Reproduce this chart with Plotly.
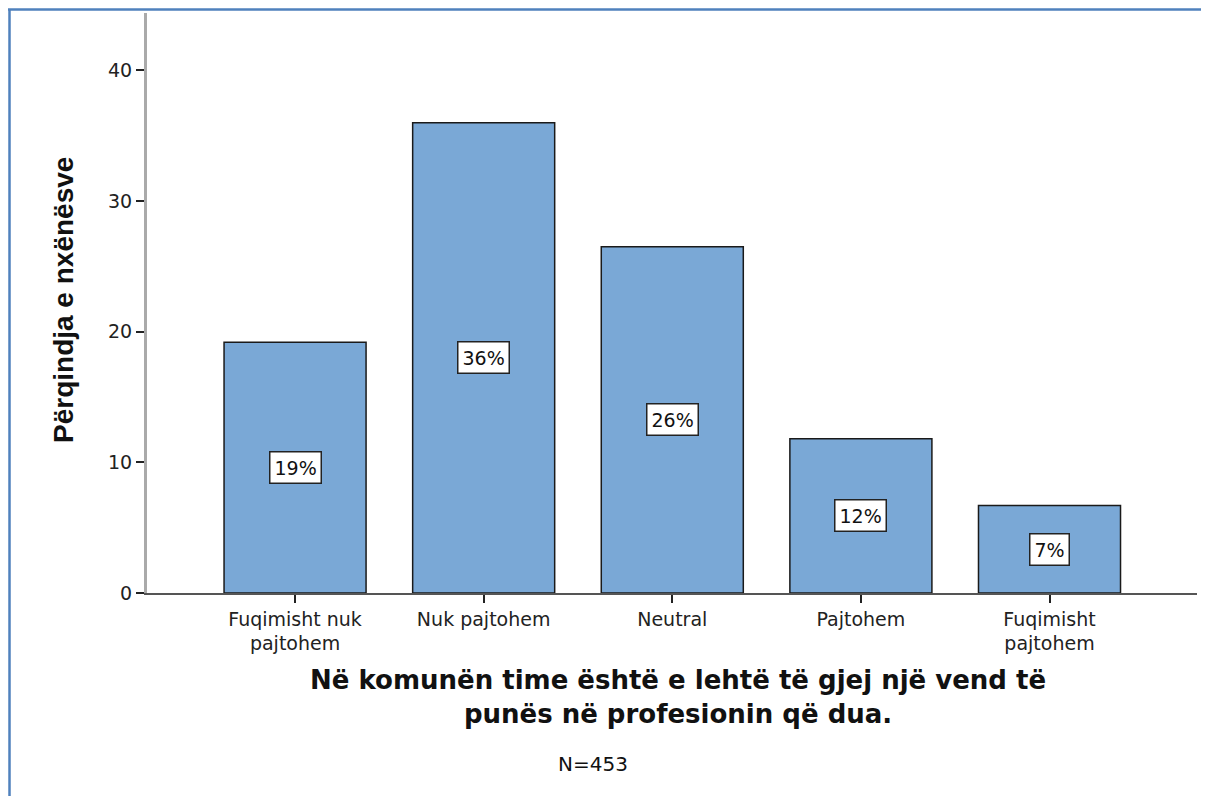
import plotly.graph_objects as go

categories = ["Fuqimisht nuk<br>pajtohem", "Nuk pajtohem", "Neutral", "Pajtohem", "Fuqimisht<br>pajtohem"]
percent_values = [19.2, 36.0, 26.5, 11.8, 6.7]
bar_labels = ["19%", "36%", "26%", "12%", "7%"]
y_ticks = [0, 10, 20, 30, 40]

x_title = "Në komunën time është e lehtë të gjej një vend të<br>punës në profesionin që dua."
y_title = "Përqindja e nxënësve"
n_note = "N=453"

xs = list(range(len(categories)))

OFF = 8  # browser body margin
W, H = 1209 - OFF, 796 - OFF
L, T = 147 - OFF, 13 - OFF
PB = 593 - OFF
PR = 1197 - OFF
B = H - PB
R = W - PR
pw = PR - L
ph = PB - T


def px_x(p):
    return (p - OFF - L) / pw


def px_y(p):
    return (PB - (p - OFF)) / ph


fig = go.Figure()
fig.add_trace(go.Bar(
    x=xs, y=percent_values, width=0.753,
    marker=dict(color="#7AA8D6", line=dict(color="#1a1a1a", width=1.5)),
    hoverinfo="skip",
))

for xi, v, lab in zip(xs, percent_values, bar_labels):
    fig.add_annotation(x=xi, y=v / 2, text=lab, showarrow=False,
                       xanchor="center", yanchor="middle",
                       font=dict(family="DejaVu Sans", size=19, color="#111"),
                       bgcolor="white", bordercolor="#222", borderwidth=1.5, borderpad=4)

fig.update_layout(
    width=W, height=H,
    margin=dict(l=L, r=R, t=T, b=B),
    plot_bgcolor="white", paper_bgcolor="white",
    showlegend=False,
    xaxis=dict(range=[-0.785, 4.782], tickmode="array", tickvals=xs, ticktext=categories,
               showgrid=False, zeroline=False, showline=True, linecolor="#555", linewidth=1.5,
               ticks="outside", ticklen=8, tickwidth=2, tickcolor="#222",
               tickfont=dict(family="DejaVu Sans", size=19, color="#222")),
    yaxis=dict(range=[0, 44.4], tickmode="array", tickvals=y_ticks,
               showgrid=False, zeroline=False, showline=True, linecolor="#aaaaaa", linewidth=3,
               ticks="outside", ticklen=8, tickwidth=2, tickcolor="#222",
               tickfont=dict(family="DejaVu Sans", size=19, color="#222")),
)

fig.add_annotation(xref="paper", yref="paper", x=px_x(63), y=px_y(300), text=y_title,
                   textangle=-90, showarrow=False, xanchor="center", yanchor="middle",
                   font=dict(family="Liberation Sans Narrow, Liberation Sans", size=28, color="#111", weight="bold"))
fig.add_annotation(xref="paper", yref="paper", x=px_x(678), y=px_y(697), text=x_title,
                   showarrow=False, xanchor="center", yanchor="middle", align="center",
                   font=dict(family="DejaVu Sans", size=26, color="#111", weight="bold"))
fig.add_annotation(xref="paper", yref="paper", x=px_x(593), y=px_y(764), text=n_note,
                   showarrow=False, xanchor="center", yanchor="middle",
                   font=dict(family="DejaVu Sans", size=20, color="#111"))

# frame lines (blue border), drawn at the very edge of the figure
fig.add_shape(type="line", xref="paper", yref="paper", x0=px_x(9.5), x1=px_x(9.5), y0=px_y(800), y1=px_y(9.5),
              line=dict(color="#4F81BD", width=2.5))
fig.add_shape(type="line", xref="paper", yref="paper", x0=px_x(8), x1=px_x(1215), y0=px_y(9.5), y1=px_y(9.5),
              line=dict(color="#4F81BD", width=2.5))

fig.write_html("out.html")
